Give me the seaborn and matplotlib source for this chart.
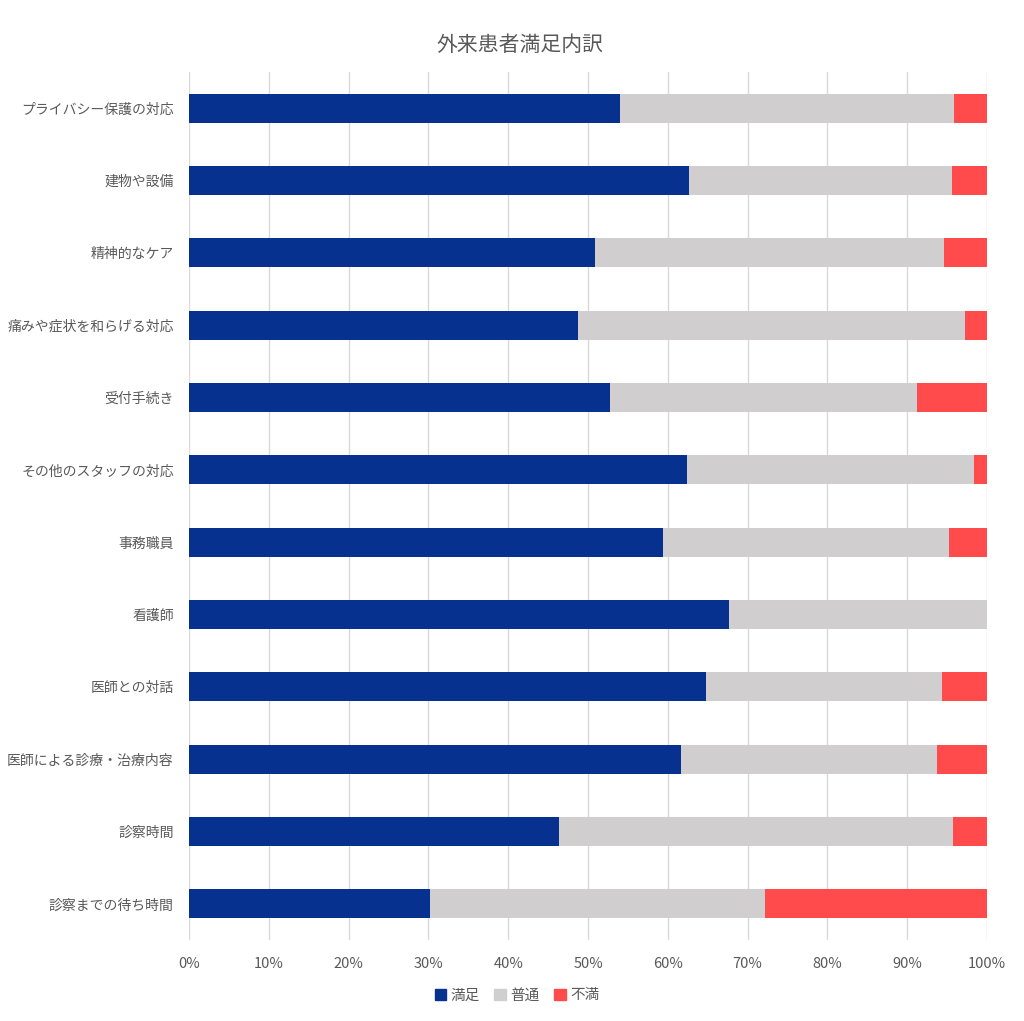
import matplotlib
matplotlib.use("Agg")
import matplotlib.pyplot as plt
import seaborn as sns
import pandas as pd
from matplotlib.patches import Patch
from matplotlib.ticker import PercentFormatter

categories = ['プライバシー保護の対応', '建物や設備', '精神的なケア', '痛みや症状を和らげる対応',
              '受付手続き', 'その他のスタッフの対応', '事務職員', '看護師', '医師との対話',
              '医師による診療・治療内容', '診察時間', '診察までの待ち時間']
satisfied = [54.0, 62.7, 50.9, 48.7, 52.8, 62.4, 59.4, 67.7, 64.8, 61.7, 46.3, 30.2]
neutral = [41.8, 32.9, 43.7, 48.5, 38.4, 36.0, 35.8, 32.3, 29.6, 32.0, 49.4, 42.0]
dissatisfied = [4.2, 4.4, 5.4, 2.8, 8.8, 1.6, 4.8, 0.0, 5.6, 6.3, 4.3, 27.8]
series_names = ['満足', '普通', '不満']
colors = ['#06318f', '#d0cece', '#ff4b4b']

df = pd.DataFrame({'項目': categories, '満足': satisfied, '普通': neutral, '不満': dissatisfied})
df['c1'] = df['満足']
df['c2'] = df['満足'] + df['普通']
df['c3'] = df['c2'] + df['不満']

sns.set_style('white')
plt.rcParams['font.family'] = ['Noto Sans CJK JP', 'DejaVu Sans']

fig = plt.figure(figsize=(10.24, 10.21), dpi=100)
ax = fig.add_axes([0.1846, 0.0793, 0.7793, 0.8502])

# stacked: draw cumulative totals back to front
for col, c in zip(['c3', 'c2', 'c1'], colors[::-1]):
    sns.barplot(data=df, x=col, y='項目', order=categories, color=c, width=0.4,
                orient='h', ax=ax, saturation=1, linewidth=0, zorder=3)

ax.set_xlim(0, 100)
ax.set_ylim(11.5, -0.5)
ax.set_xticks(range(0, 101, 10))
ax.xaxis.set_major_formatter(PercentFormatter(decimals=0))
ax.grid(axis='x', color='#d9d9d9', linewidth=1, zorder=0)
ax.set_axisbelow(True)
for s in ax.spines.values():
    s.set_visible(False)
ax.set_xlabel('')
ax.set_ylabel('')
ax.tick_params(axis='x', length=4, color='#d9d9d9', pad=8, labelsize=10.5, labelcolor='#595959')
ax.tick_params(axis='y', length=0, pad=11, labelsize=10, labelcolor='#595959')

fig.text(0.508, 1 - 45 / 1021, '外来患者満足内訳', fontsize=15, color='#595959',
         ha='center', va='center')

handles = [Patch(facecolor=c, edgecolor=c) for c in colors]
fig.legend(handles, series_names, loc='center', bbox_to_anchor=(0.505, 0.025), ncol=3,
           frameon=False, handlelength=0.8, handleheight=0.8, handletextpad=0.3,
           columnspacing=1.0, prop={'size': 10.5}, labelcolor='#595959')

fig.savefig('out.png', dpi=100)
